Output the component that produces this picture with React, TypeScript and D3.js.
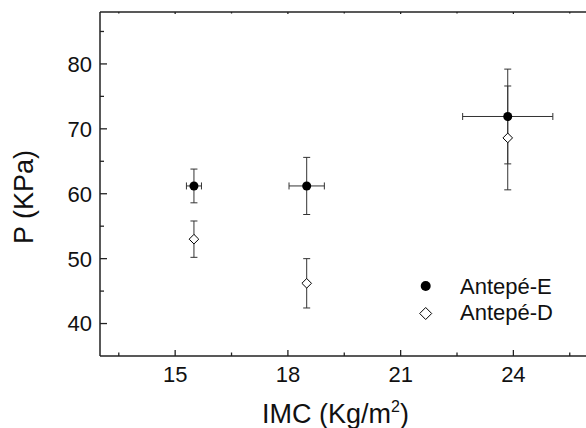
import React from "react";
import * as d3 from "d3";

// IMC values (x), pressure (y) and their errors
const imcE = [15.5, 18.5, 23.85];
const imcErrE = [0.2, 0.47, 1.2];
const presE = [61.2, 61.2, 71.9];
const presErrE = [2.6, 4.4, 7.3];

const imcD = [15.5, 18.5, 23.85];
const presD = [53.0, 46.2, 68.6];
const presErrD = [2.8, 3.8, 8.0];

const xTicks = [15, 18, 21, 24];
const xMinor = [13.5, 16.5, 19.5, 22.5, 25.5];
const yTicks = [40, 50, 60, 70, 80];
const yMinor = [45, 55, 65, 75, 85];

const seriesNames = ["Antepé-E", "Antepé-D"];

const W = 586;
const H = 428;
const left = 100;
const top = 12;
const bottom = 356;
const FONT = "Arial, 'Liberation Sans', Helvetica, sans-serif";

const App = () => {
    const x = d3.scaleLinear().domain([13, 26]).range([left, left + 13 * 37.58]);
    const y = d3.scaleLinear().domain([35, 88]).range([bottom, top]);

    const diamond = (cx: number, cy: number, r: number) =>
        `M${cx},${cy - r}L${cx + r},${cy}L${cx},${cy + r}L${cx - r},${cy}Z`;

    const cap = 3.5;
    const barColor = "#333";

    const vBar = (cx: number, lo: number, hi: number, key: string) => (
        <g key={key} stroke={barColor} strokeWidth={1}>
            <line x1={cx} x2={cx} y1={y(lo)} y2={y(hi)} />
            <line x1={cx - cap} x2={cx + cap} y1={y(lo)} y2={y(lo)} />
            <line x1={cx - cap} x2={cx + cap} y1={y(hi)} y2={y(hi)} />
        </g>
    );

    const hBar = (cy: number, lo: number, hi: number, key: string) => (
        <g key={key} stroke={barColor} strokeWidth={1}>
            <line x1={x(lo)} x2={x(hi)} y1={cy} y2={cy} />
            <line x1={x(lo)} x2={x(lo)} y1={cy - cap} y2={cy + cap} />
            <line x1={x(hi)} x2={x(hi)} y1={cy - cap} y2={cy + cap} />
        </g>
    );

    const xRight = x(26);

    return (
        <div>
            <style>{`body{margin:0}`}</style>
            <svg width={W} height={H} style={{ display: "block", fontFamily: FONT }}>
                <rect width={W} height={H} fill="white" />

                {/* error bars */}
                {imcE.map((v, i) => hBar(y(presE[i]), v - imcErrE[i], v + imcErrE[i], "hE" + i))}
                {imcE.map((v, i) => vBar(x(v), presE[i] - presErrE[i], presE[i] + presErrE[i], "vE" + i))}
                {imcD.map((v, i) => vBar(x(v), presD[i] - presErrD[i], presD[i] + presErrD[i], "vD" + i))}

                {/* markers */}
                {imcE.map((v, i) => (
                    <circle key={"mE" + i} cx={x(v)} cy={y(presE[i])} r={4.5} fill="black" />
                ))}
                {imcD.map((v, i) => (
                    <path key={"mD" + i} d={diamond(x(v), y(presD[i]), 4.8)} fill="white" stroke="black" strokeWidth={1} />
                ))}

                {/* frame */}
                <g stroke="#222" strokeWidth={1.5} fill="none">
                    <line x1={left} x2={left} y1={top} y2={bottom} />
                    <line x1={left} x2={xRight} y1={bottom} y2={bottom} />
                    <line x1={left} x2={xRight} y1={top} y2={top} />
                </g>

                {/* x ticks */}
                {xTicks.map((t) => (
                    <g key={"xt" + t}>
                        <line x1={x(t)} x2={x(t)} y1={bottom} y2={bottom - 6} stroke="#222" strokeWidth={1.3} />
                        <line x1={x(t)} x2={x(t)} y1={top} y2={top + 2} stroke="#222" strokeWidth={1.3} />
                        <text x={x(t)} y={381.5} textAnchor="middle" fontSize={22} fill="#111">{t}</text>
                    </g>
                ))}
                {xMinor.map((t) => (
                    <g key={"xm" + t} stroke="#222" strokeWidth={1.3}>
                        <line x1={x(t)} x2={x(t)} y1={bottom} y2={bottom - 3.5} />
                        <line x1={x(t)} x2={x(t)} y1={top} y2={top + 1.5} />
                    </g>
                ))}

                {/* y ticks */}
                {yTicks.map((t) => (
                    <g key={"yt" + t}>
                        <line x1={left} x2={left + 7} y1={y(t)} y2={y(t)} stroke="#222" strokeWidth={1.3} />
                        <text x={92} y={y(t)} dy="0.36em" textAnchor="end" fontSize={22} fill="#111">{t}</text>
                    </g>
                ))}
                {yMinor.map((t) => (
                    <line key={"ym" + t} x1={left} x2={left + 4} y1={y(t)} y2={y(t)} stroke="#222" strokeWidth={1.3} />
                ))}

                {/* axis titles */}
                <text x={262} y={422.5} fontSize={27} fill="#111">
                    IMC (Kg/m<tspan dy={-11} fontSize={16}>2</tspan><tspan dy={11}>)</tspan>
                </text>
                <text transform={`translate(33, 197) rotate(-90)`} textAnchor="middle" fontSize={27} fill="#111">
                    P (KPa)
                </text>

                {/* legend */}
                <circle cx={425.7} cy={286} r={5} fill="black" />
                <text x={460} y={293.5} fontSize={22} fill="#111">{seriesNames[0]}</text>
                <path d={diamond(425.7, 313.5, 6)} fill="white" stroke="black" strokeWidth={1} />
                <text x={460} y={320} fontSize={22} fill="#111">{seriesNames[1]}</text>
            </svg>
        </div>
    );
};

export default App;
